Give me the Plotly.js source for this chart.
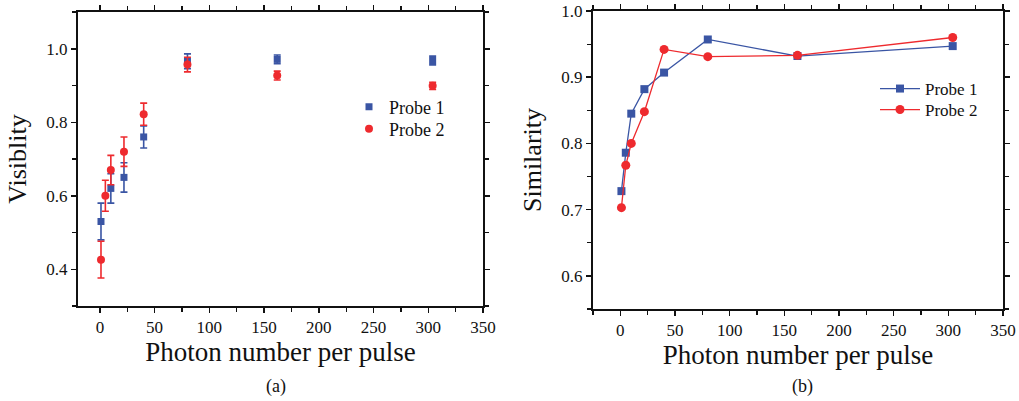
<!DOCTYPE html>
<html><head><meta charset="utf-8">
<script src="https://cdn.plot.ly/plotly-3.0.1.min.js"></script>
<style>html,body{margin:0;padding:0;background:#fff}#chart{width:1019px;height:401px}</style>
</head><body><div id="chart"></div>
<script>
// Panel (a): Visibility
const xA_p1 = [1, 10, 22, 40, 80, 162, 304];
const vis_p1 = [0.53, 0.62, 0.65, 0.76, 0.966, 0.971, 0.968];
const visErr_p1 = [0.05, 0.04, 0.04, 0.03, 0.02, 0.012, 0.012];
const xA_p2 = [1, 5, 10, 22, 40, 80, 162, 304];
const vis_p2 = [0.426, 0.60, 0.67, 0.72, 0.822, 0.957, 0.927, 0.899];
const visErr_p2 = [0.05, 0.042, 0.04, 0.04, 0.03, 0.02, 0.012, 0.01];
// Panel (b): Similarity
const xB = [1, 5, 10, 22, 40, 80, 162, 304];
const sim_p1 = [0.728, 0.786, 0.845, 0.882, 0.907, 0.957, 0.932, 0.947];
const sim_p2 = [0.703, 0.767, 0.800, 0.848, 0.942, 0.931, 0.933, 0.960];
const seriesNames = ['Probe 1', 'Probe 2'];
const panelLabels = ['(a)', '(b)'];
const xTitle = 'Photon number per pulse';
const yTitleA = 'Visiblity';
const yTitleB = 'Similarity';

const BLUE = '#3a55a4', RED = '#ee2a2e';
const FONT = 'Liberation Serif';
const TXT = '#111';

const traces = [
  {x: xA_p1, y: vis_p1, type: 'scatter', mode: 'markers', name: seriesNames[0], xaxis: 'x', yaxis: 'y', legend: 'legend',
   marker: {symbol: 'square', size: 7, color: BLUE},
   error_y: {type: 'data', array: visErr_p1, visible: true, color: BLUE, thickness: 1.6, width: 3.5}},
  {x: xA_p2, y: vis_p2, type: 'scatter', mode: 'markers', name: seriesNames[1], xaxis: 'x', yaxis: 'y', legend: 'legend2',
   marker: {symbol: 'circle', size: 8, color: RED},
   error_y: {type: 'data', array: visErr_p2, visible: true, color: RED, thickness: 1.6, width: 3.5}},
  {x: xB, y: sim_p1, type: 'scatter', mode: 'lines+markers', name: seriesNames[0], xaxis: 'x2', yaxis: 'y2', legend: 'legend3',
   line: {color: BLUE, width: 1.3}, marker: {symbol: 'square', size: 8, color: BLUE}},
  {x: xB, y: sim_p2, type: 'scatter', mode: 'lines+markers', name: seriesNames[1], xaxis: 'x2', yaxis: 'y2', legend: 'legend4',
   line: {color: RED, width: 1.3}, marker: {symbol: 'circle', size: 9, color: RED}}
];

function xaxisCfg(domain, range, anchor) {
  return {domain: domain, range: range, anchor: anchor, dtick: 50, tick0: 0,
    showgrid: false, zeroline: false, showline: true, linecolor: '#111', linewidth: 2, mirror: 'ticks',
    ticks: 'outside', ticklen: 5, tickwidth: 1.5, tickcolor: '#111',
    minor: {dtick: 25, ticks: 'outside', ticklen: 4, tickwidth: 1.2, tickcolor: '#111'},
    tickfont: {family: FONT, size: 17, color: TXT},
    title: {text: xTitle, font: {family: FONT, size: 27, color: TXT}, standoff: 0}};
}
function yaxisCfg(domain, range, anchor, dtick, minorDtick, title) {
  return {domain: domain, range: range, anchor: anchor, dtick: dtick, tick0: 0, tickformat: '.1f',
    showgrid: false, zeroline: false, showline: true, linecolor: '#111', linewidth: 2, mirror: 'ticks',
    ticks: 'outside', ticklen: 5, tickwidth: 1.5, tickcolor: '#111',
    minor: {dtick: minorDtick, ticks: 'outside', ticklen: 4, tickwidth: 1.2, tickcolor: '#111'},
    tickfont: {family: FONT, size: 17, color: TXT},
    title: {text: title, font: {family: FONT, size: 26, color: TXT}, standoff: 12}};
}
function legendCfg(xpx, ypx, size, iw) {
  return {x: xpx/1019, y: 1 - ypx/401, xanchor: 'left', yanchor: 'middle', bgcolor: 'rgba(0,0,0,0)',
    font: {family: FONT, size: size, color: TXT}, itemwidth: iw};
}

const layout = {
  width: 1019, height: 401,
  margin: {l: 0, r: 0, t: 0, b: 0},
  paper_bgcolor: '#fff', plot_bgcolor: '#fff',
  font: {family: FONT, color: TXT},
  showlegend: true,
  xaxis: xaxisCfg([78/1019, 483/1019], [-20, 350], 'y'),
  yaxis: yaxisCfg([1 - 306/401, 1 - 12/401], [0.3, 1.1], 'x', 0.2, 0.1, yTitleA),
  xaxis2: xaxisCfg([593/1019, 1003/1019], [-25, 350], 'y2'),
  yaxis2: yaxisCfg([1 - 309/401, 1 - 11/401], [0.55, 1.0], 'x2', 0.1, 0.05, yTitleB),
  legend: legendCfg(349, 107, 18, 30),
  legend2: legendCfg(349, 129, 18, 30),
  legend3: legendCfg(875, 89, 17, 40),
  legend4: legendCfg(875, 110, 17, 40),
  annotations: [
    {text: panelLabels[0], x: 276/1019, y: 1 - 399/401, xref: 'paper', yref: 'paper', xanchor: 'center', yanchor: 'bottom', showarrow: false,
     font: {family: FONT, size: 18, color: TXT}},
    {text: panelLabels[1], x: 802/1019, y: 1 - 399/401, xref: 'paper', yref: 'paper', xanchor: 'center', yanchor: 'bottom', showarrow: false,
     font: {family: FONT, size: 18, color: TXT}}
  ]
};

Plotly.newPlot('chart', traces, layout, {displayModeBar: false, staticPlot: true});
</script>
</body></html>
